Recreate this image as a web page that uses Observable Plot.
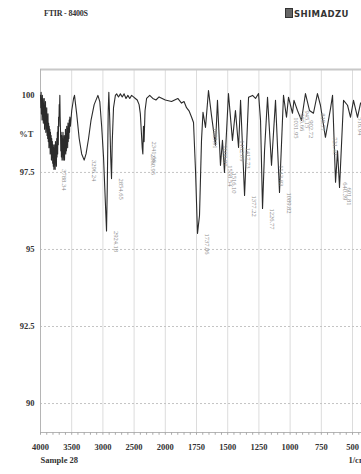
<!DOCTYPE html>
<html>
<head>
<meta charset="utf-8">
<script src="https://cdn.jsdelivr.net/npm/d3@7"></script>
<script src="https://cdn.jsdelivr.net/npm/@observablehq/plot@0.6"></script>
<style>
  body { margin: 0; background: #fff; }
  #wrap { position: relative; width: 361px; height: 474px; overflow: hidden; }
  .hdr { position: absolute; font-family: "Liberation Serif", serif; font-weight: bold; color: #333; }
</style>
</head>
<body>
<div id="wrap">
  <div class="hdr" style="left:44px; top:9px; font-size:8px; letter-spacing:-0.2px;">FTIR - 8400S</div>
  <div class="hdr" style="left:285px; top:8px; font-family:'DejaVu Sans',sans-serif; font-size:8.5px; letter-spacing:0.4px;"><span style="display:inline-block;width:6px;height:8px;border:1px solid #333;background:#666;vertical-align:-1px;margin-right:1px;"></span>SHIMADZU</div>
  <div id="chart" style="position:absolute; left:0; top:0;"></div>
</div>
<script>
// wavenumbers (1/cm) and transmittance (%T) of the trace
const wavenumbers = [4000,3995,3990,3985,3980,3975,3970,3965,3960,3955,3950,3945,3940,3935,3930,3925,3920,3915,3910,3905,3900,3895,3890,3885,3880,3875,3870,3865,3860,3855,3850,3845,3840,3835,3830,3825,3820,3815,3810,3805,3800,3795,3790,3785,3780,3775,3770,3765,3760,3755,3750,3745,3740,3735,3730,3725,3720,3715,3710,3705,3700,3695,3690,3685,3680,3675,3670,3665,3660,3655,3650,3645,3640,3635,3630,3625,3620,3615,3610,3605,3600,3595,3590,3585,3580,3575,3570,3565,3560,3555,3550,3545,3540,3535,3530,3520,3500,3470,3455,3420,3380,3340,3300,3270,3230,3190,3140,3080,3050,3020,2990,2960,2942,2930,2915,2905,2890,2875,2862,2850,2830,2800,2780,2750,2720,2690,2660,2630,2600,2570,2540,2510,2480,2450,2420,2400,2370,2360,2350,2340,2325,2300,2250,2200,2150,2100,2050,2000,1950,1900,1870,1850,1830,1810,1790,1774,1758,1742,1726,1710,1698,1678,1654,1630,1598,1582,1558,1542,1526,1494,1462,1438,1413,1397,1365,1333,1301,1277,1253,1237,1221,1205,1181,1149,1117,1085,1053,1029,1013,981,969,941,909,877,845,813,781,757,717,676,660,636,620,604,572,540,516,492,460,436,404,400];
const transmittance = [100.0,99.6,100.1,99.4,99.9,99.2,100.0,99.5,99.9,99.1,99.7,99.3,99.9,98.9,99.6,99.2,99.8,98.8,99.5,99.0,99.6,98.7,99.3,98.6,99.4,98.5,99.1,98.3,99.0,98.4,98.9,98.1,98.8,98.2,98.7,97.9,98.6,98.0,98.5,97.8,98.4,97.7,98.3,97.6,98.4,97.8,98.2,97.6,98.5,97.9,98.3,97.7,98.6,98.0,98.8,98.1,99.0,98.4,99.3,99.0,99.7,99.5,100.0,99.3,98.9,98.2,98.8,98.0,98.7,97.9,98.6,98.1,98.8,97.9,98.5,98.0,98.7,97.9,98.6,98.2,98.9,98.1,98.7,98.2,99.0,98.4,98.9,98.3,99.1,98.5,99.0,98.6,99.2,98.8,99.3,99.0,99.5,99.9,100.0,99.4,98.6,98.1,97.9,98.1,98.6,99.2,99.7,100.0,99.8,99.0,98.0,96.5,95.6,97.0,99.5,100.1,99.2,98.0,97.3,98.5,99.6,100.0,100.05,99.95,100.05,99.95,100.05,99.9,100.0,99.9,100.0,99.95,99.9,99.85,99.7,99.4,98.3,98.1,99.0,98.5,99.5,99.9,100.0,99.9,99.85,99.95,99.9,99.85,99.8,99.9,99.75,99.8,99.6,99.5,99.3,99.12,97.56,95.52,96.10,98.54,99.45,98.96,100.16,99.35,98.38,99.84,97.73,98.54,97.5,100.06,98.54,99.51,98.31,99.84,96.75,99.94,100.0,99.9,100.06,99.19,96.33,98.2,99.94,97.73,99.84,96.85,100.0,99.29,99.94,99.42,99.84,99.51,99.19,100.06,99.51,99.42,100.06,99.68,98.64,99.58,100.0,97.18,98.2,97.01,99.84,99.68,99.29,99.84,99.29,99.74,99.9,100.0];

// peak picks
const peakWn = [3785,3300,2942,2862,2360,2340,1742,1678,1598,1558,1526,1462,1413,1365,1221,1149,1085,1029,981,941,909,813,717,636,604,516,460];
const peakT  = [97.6,97.9,95.6,97.3,98.1,98.5,95.52,98.96,98.38,97.73,97.5,98.54,98.31,96.75,96.33,97.73,96.85,99.29,99.42,99.51,99.19,99.42,98.64,97.18,97.01,99.29,99.29];
const peakLabels = ["3788.34","3296.24","2924.18","2854.65","2360.95","2341.66","1737.86","1683.91","1600.97","1558.54","1516.10","1462.09","1417.73","1377.22","1226.77","1143.83","1089.82","1031.95","985.66","945.15","902.72","819.77","721.40","640.39","601.81","516.94","464.84"];

// axes
const xTicks = [4000,3500,3000,2500,2000,1750,1500,1250,1000,750,500];
const xMinor = [];
for (let v = 4000; v >= 2000; v -= 100) xMinor.push(v);
for (let v = 1950; v >= 400; v -= 50) xMinor.push(v);
const yTicks = [90, 92.5, 95, 97.5, 100];
const yTickLabels = ["90", "92.5", "95", "97.5", "100"];
const yMinor = [];
for (let v = 89.5; v <= 100.5; v += 0.5) yMinor.push(v);
const yGrid = [90, 92.5, 95, 97.5];
const yMin = 89.06, yMax = 100.84;

// FTIR abscissa: 500 1/cm per division above 2000, 250 below
const ftirX = w => (w >= 2000 ? (4000 - w) / 500 : 4 + (2000 - w) / 250);

const trace = wavenumbers.map((w, i) => ({wn: w, t: transmittance[i]}));
const peaks = peakWn.map((w, i) => ({wn: w, t: peakT[i], label: peakLabels[i]}));

const serif = "Liberation Serif, serif";

const chart = Plot.plot({
  width: 361,
  height: 474,
  marginTop: 69,
  marginBottom: 42,
  marginLeft: 40,
  marginRight: 0,
  style: {background: "transparent", overflow: "hidden"},
  x: {type: "linear", transform: ftirX, domain: [0, 10.4], range: [40, 364.5], axis: null},
  y: {type: "linear", domain: [yMin, yMax], axis: null},
  marks: [
    Plot.ruleX(xTicks.slice(1), {stroke: "#dcdcdc", strokeWidth: 1}),
    Plot.ruleY(yGrid, {stroke: "#c4c4c4", strokeDasharray: "2,2"}),
    Plot.ruleY([yMax], {stroke: "#c8c8c8", strokeWidth: 2}),
    Plot.ruleY([yMin], {stroke: "#b5b5b5", strokeWidth: 1}),
    Plot.ruleX([4000], {stroke: "#b5b5b5", strokeWidth: 1}),
    Plot.ruleX(xMinor, {y1: yMin, y2: yMin - 0.09, stroke: "#aaa"}),
    Plot.ruleY(yMinor, {x1: 4000, x2: 4000, dx: -2, stroke: "#aaa"}),
    Plot.text(xTicks, {x: d => d, frameAnchor: "bottom", dy: 17, text: d => String(d),
      fontSize: 8.5, fontFamily: serif, fontWeight: "bold", fill: "#333"}),
    Plot.text(yTicks, {y: d => d, frameAnchor: "left", dx: -6, textAnchor: "end",
      text: (d, i) => yTickLabels[i],
      fontSize: 8.5, fontFamily: serif, fontWeight: "bold", fill: "#333"}),
    Plot.text(["%T"], {y: [98.75], frameAnchor: "left", dx: -7, textAnchor: "end",
      fontSize: 8.5, fontFamily: serif, fontWeight: "bold", fill: "#444"}),
    Plot.line(trace, {x: "wn", y: "t", stroke: "#2b2b2b", strokeWidth: 1.1}),
    Plot.text(peaks, {x: "wn", y: "t", text: "label", rotate: 90, textAnchor: "start", dx: 10,
      fontSize: 6.5, fontFamily: serif, fill: "#8a8a8a"}),
    Plot.text(["Sample 28"], {frameAnchor: "bottom-left", dy: 30, textAnchor: "start",
      fontSize: 8.5, fontFamily: serif, fontWeight: "bold", fill: "#333"}),
    Plot.text(["1/cm"], {frameAnchor: "bottom-right", dx: -13, dy: 30, textAnchor: "start",
      fontSize: 8.5, fontFamily: serif, fontWeight: "bold", fill: "#333"})
  ]
});
document.getElementById("chart").appendChild(chart);
</script>
</body>
</html>
